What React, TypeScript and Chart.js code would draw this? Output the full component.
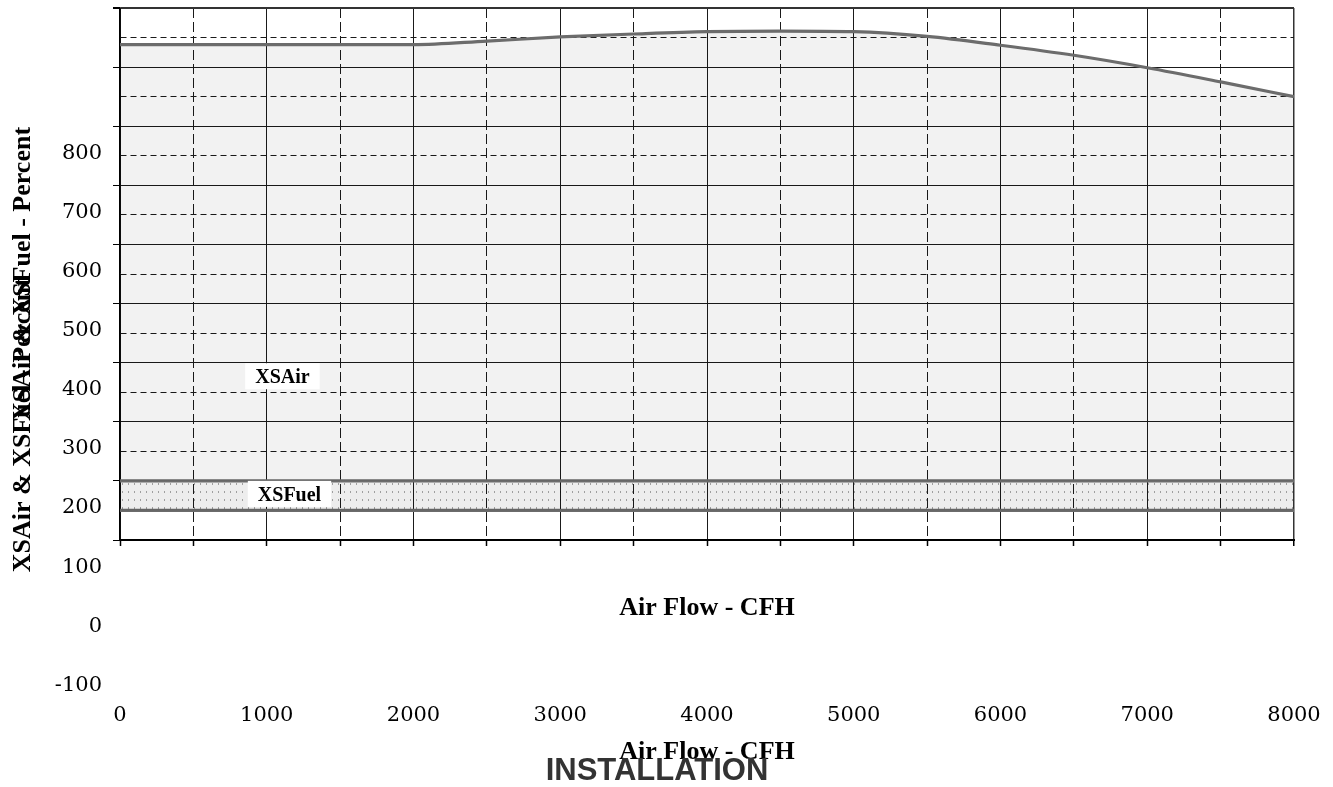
import React, { useEffect, useRef } from 'react';
import { Chart, registerables } from 'chart.js';

Chart.register(...registerables);

// ---- data ----
const airFlow = [0, 500, 1000, 1500, 2000, 2500, 3000, 3500, 4000, 4500, 5000, 5500, 6000, 6500, 7000, 7500, 8000];
const xsAir = [988, 988, 988, 988, 988, 994, 1001, 1006, 1010, 1011, 1010, 1002, 987, 970, 949, 925, 900];
const xsFuelHigh = [250, 250, 250, 250, 250, 250, 250, 250, 250, 250, 250, 250, 250, 250, 250, 250, 250];
const xsFuelLow = [200, 200, 200, 200, 200, 200, 200, 200, 200, 200, 200, 200, 200, 200, 200, 200, 200];

const xTickLabels = [0, 1000, 2000, 3000, 4000, 5000, 6000, 7000, 8000];
const yTickLabels = [-100, 0, 100, 200, 300, 400, 500, 600, 700, 800];

const seriesLabelNames = ['XSAir', 'XSFuel'];
const seriesLabelX = [1107, 1155];
const seriesLabelY = [427, 228];

const xTitle = 'Air Flow - CFH';
const yTitle = 'XSAir & XSFuel - Percent';
const chartTitle = 'INSTALLATION';

const SERIF = "'Liberation Serif', 'Times New Roman', serif";
const TICK_SERIF = "'DejaVu Serif', serif";
const SANS = "'Liberation Sans', Arial, sans-serif";

const toPts = (xs: number[], ys: number[]) => xs.map((x, i) => ({ x, y: ys[i] }));

const seriesLabelPlugin = {
  id: 'seriesLabels',
  afterDatasetsDraw(chart: any) {
    const { ctx, scales } = chart;
    const xs = scales.x;
    const ys = scales.y;
    ctx.save();
    ctx.font = `bold 20px ${SERIF}`;
    ctx.textAlign = 'center';
    ctx.textBaseline = 'middle';
    seriesLabelNames.forEach((t, i) => {
      const px = xs.getPixelForValue(seriesLabelX[i]);
      const py = ys.getPixelForValue(seriesLabelY[i]);
      const w = ctx.measureText(t).width + 20;
      const h = 26;
      ctx.fillStyle = '#ffffff';
      ctx.fillRect(px - w / 2, py - h / 2, w, h);
      ctx.fillStyle = '#000000';
      ctx.fillText(t, px, py + 1.5);
    });
    ctx.restore();
  },
};

export default function App() {
  const ref1 = useRef<HTMLCanvasElement>(null);
  const ref2 = useRef<HTMLCanvasElement>(null);

  useEffect(() => {
    const c1 = ref1.current!;
    const c2 = ref2.current!;

    const pc = document.createElement('canvas');
    pc.width = 6;
    pc.height = 8;
    const g = pc.getContext('2d')!;
    g.fillStyle = 'rgba(0,0,0,0.07)';
    g.fillRect(0, 0, 6, 8);
    g.fillStyle = 'rgba(0,0,0,0.33)';
    g.fillRect(2, 3, 1, 2);
    const pattern = c1.getContext('2d')!.createPattern(pc, 'repeat');

    const lineColor = '#6c6c6c';

    const chart1 = new Chart(c1, {
      type: 'line',
      data: {
        datasets: [
          {
            label: 'XSAir',
            data: toPts(airFlow, xsAir),
            borderColor: lineColor,
            borderWidth: 3.2,
            pointRadius: 0,
            fill: '+1',
            backgroundColor: 'rgba(0,0,0,0.05)',
            cubicInterpolationMode: 'monotone',
          },
          {
            label: 'XSFuel',
            data: toPts(airFlow, xsFuelHigh),
            borderColor: lineColor,
            borderWidth: 3.2,
            pointRadius: 0,
            fill: '+1',
            backgroundColor: pattern as any,
          },
          {
            label: 'XSFuel low',
            data: toPts(airFlow, xsFuelLow),
            borderColor: lineColor,
            borderWidth: 3.2,
            pointRadius: 0,
            fill: false,
          },
        ],
      },
      options: {
        animation: false,
        responsive: false,
        layout: { padding: { left: 0, top: 8, right: 39, bottom: 163.6 } },
        plugins: {
          legend: { display: false },
          tooltip: { enabled: false },
          title: { display: false },
        },
        scales: {
          x: {
            type: 'linear',
            min: 0,
            max: 8000,
            ticks: { stepSize: 500, display: false },
            grid: {
              color: (c: any) => (c.tick && c.tick.value === 8000 ? '#333' : '#1a1a1a'),
              lineWidth: (c: any) => (c.tick && c.tick.value === 8000 ? 1.5 : 1),
              tickLength: 6,
              tickColor: '#000',
              tickWidth: 1.5,
            },
            border: {
              display: true,
              color: '#000',
              width: 2,
              dash: (c: any) => (c.tick && c.tick.value % 1000 !== 0 ? [10, 4] : []),
            },
            title: {
              display: true,
              text: xTitle,
              color: '#000',
              font: { family: SERIF, size: 26, weight: 'bold' },
              padding: { top: 0, bottom: 0 },
            },
            afterFit: (s: any) => {
              s.height = 83.4;
              s.paddingLeft = 0;
              s.paddingRight = 0;
            },
          },
          y: {
            type: 'linear',
            min: 150,
            max: 1050,
            ticks: { stepSize: 50, display: false },
            grid: {
              color: (c: any) => (c.tick && c.tick.value === 1050 ? '#333' : '#1a1a1a'),
              lineWidth: (c: any) => (c.tick && c.tick.value === 1050 ? 2 : 1),
              tickLength: 7,
              tickColor: (c: any) => (c.tick && c.tick.value % 100 === 50 ? '#000' : 'rgba(0,0,0,0)'),
            },
            border: {
              display: true,
              color: '#000',
              width: 1.5,
              dash: (c: any) => (c.tick && c.tick.value % 100 === 0 ? [6, 4] : []),
            },
            title: {
              display: true,
              text: yTitle,
              color: '#000',
              font: { family: SERIF, size: 26, weight: 'bold' },
              padding: { top: 7.4, bottom: 0 },
            },
            afterFit: (s: any) => {
              s.width = 120;
              s.paddingTop = 0;
              s.paddingBottom = 0;
            },
          },
        },
      } as any,
      plugins: [seriesLabelPlugin],
    });

    const tickFont = { family: TICK_SERIF, size: 21 };

    const chart2 = new Chart(c2, {
      type: 'line',
      data: { datasets: [] },
      options: {
        animation: false,
        responsive: false,
        layout: { padding: { left: 20, top: 153.3, right: 39, bottom: 0 } },
        plugins: {
          legend: { display: false },
          tooltip: { enabled: false },
          title: {
            display: true,
            position: 'bottom',
            text: chartTitle,
            color: '#333',
            font: { family: SANS, size: 31, weight: 'bold', lineHeight: 1 },
            padding: 0,
          },
        },
        scales: {
          x: {
            type: 'linear',
            min: 0,
            max: 8000,
            afterBuildTicks: (s: any) => {
              s.ticks = xTickLabels.map((v) => ({ value: v }));
            },
            ticks: {
              font: tickFont,
              color: '#000',
              padding: 6,
              maxRotation: 0,
              autoSkip: false,
              callback: (v: any) => String(v),
            },
            grid: { display: false, drawTicks: false },
            border: { display: false },
            title: {
              display: true,
              text: xTitle,
              color: '#000',
              font: { family: SERIF, size: 26, weight: 'bold' },
              padding: { top: 0, bottom: -12.1 },
            },
            afterFit: (s: any) => {
              s.height = 58.9;
              s.paddingLeft = 0;
              s.paddingRight = 0;
            },
          },
          y: {
            type: 'linear',
            min: -120,
            max: 800,
            afterBuildTicks: (s: any) => {
              s.ticks = yTickLabels.map((v) => ({ value: v }));
            },
            ticks: {
              font: tickFont,
              color: '#000',
              padding: 18,
              autoSkip: false,
              callback: (v: any) => String(v),
            },
            grid: { display: false, drawTicks: false },
            border: { display: false },
            title: {
              display: true,
              text: yTitle,
              color: '#000',
              font: { family: SERIF, size: 26, weight: 'bold' },
              padding: { top: -12.6, bottom: 0 },
            },
            afterFit: (s: any) => {
              s.width = 100;
              s.paddingTop = 0;
              s.paddingBottom = 0;
            },
          },
        },
      } as any,
    });

    return () => {
      chart1.destroy();
      chart2.destroy();
    };
  }, []);

  const canvasStyle: React.CSSProperties = {
    position: 'absolute',
    left: 0,
    top: 0,
    width: 1333,
    height: 787,
  };

  return (
    <div style={{ position: 'fixed', left: 0, top: 0, width: 1333, height: 787, background: '#fff' }}>
      <canvas ref={ref1} width={1333} height={787} style={canvasStyle} />
      <canvas ref={ref2} width={1333} height={787} style={canvasStyle} />
    </div>
  );
}
